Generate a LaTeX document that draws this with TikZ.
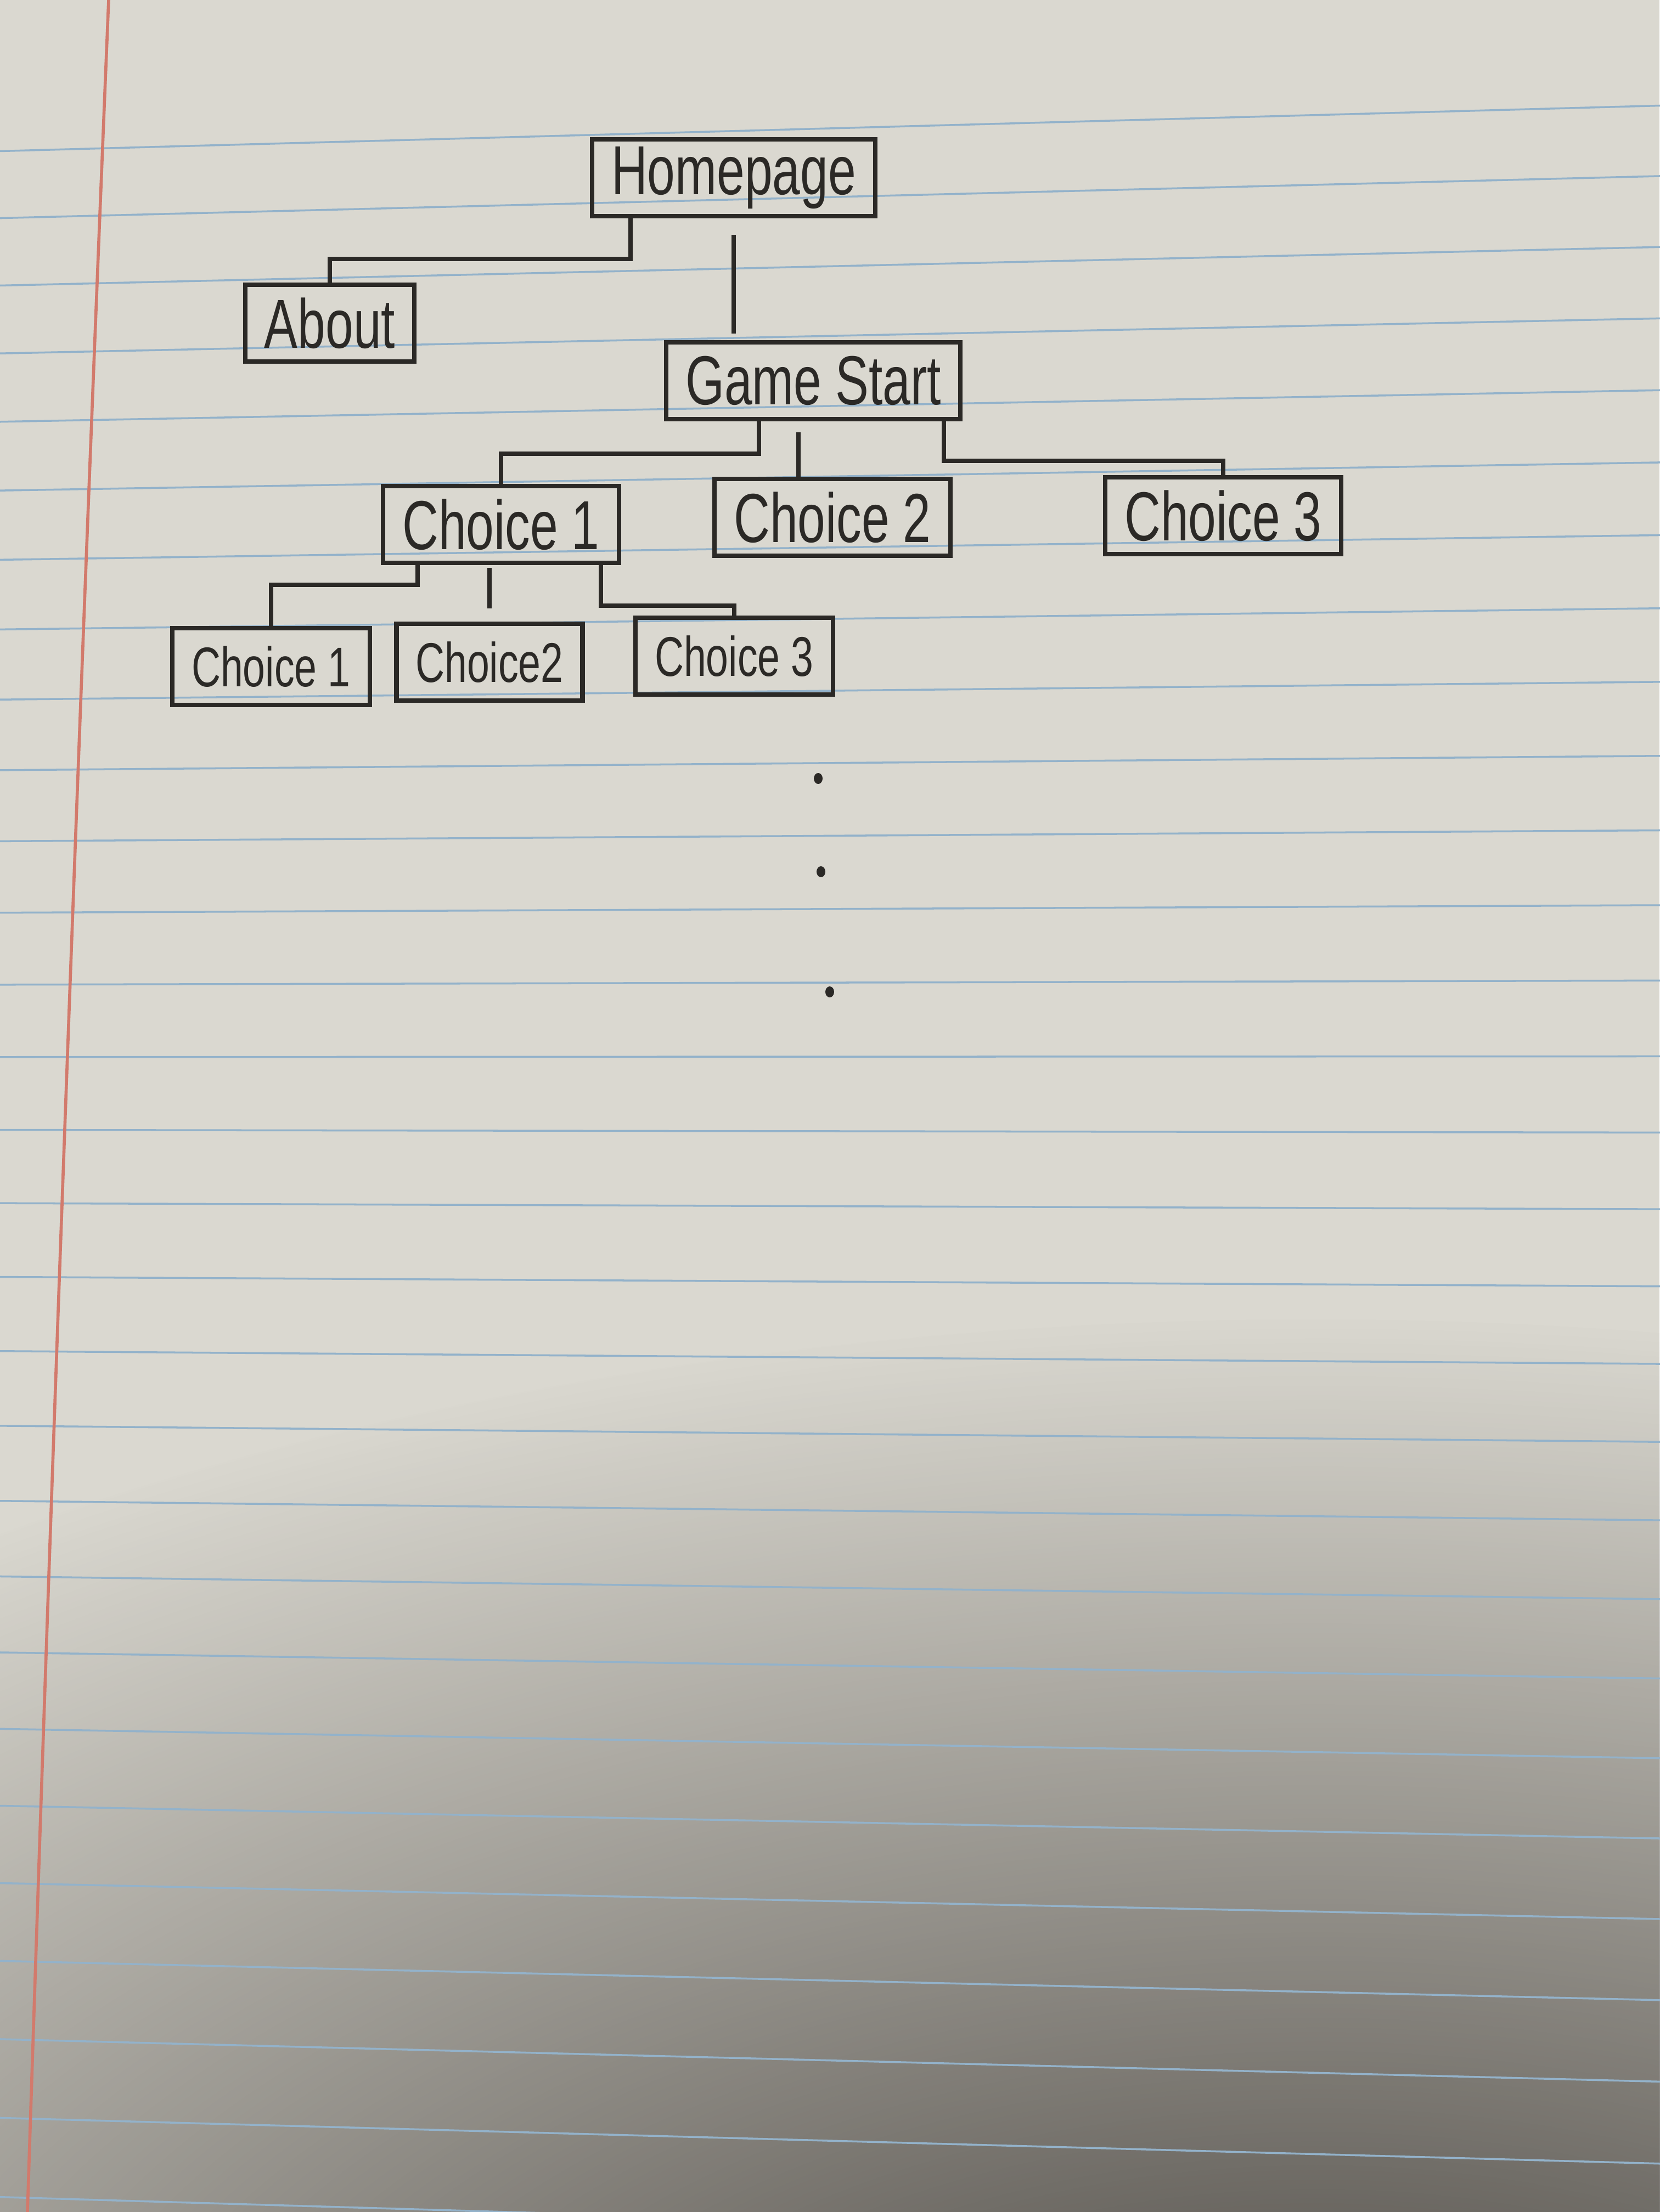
\documentclass[tikz,border=0pt]{standalone}
\usepackage{fontspec}
\setmainfont{Liberation Sans}[FakeStretch=0.72]
\usetikzlibrary{fadings}
\definecolor{paper}{HTML}{DAD8D0}
\definecolor{papershadow}{HTML}{45413C}
\definecolor{rulecol}{HTML}{93B2CA}
\definecolor{margincol}{HTML}{D27A6C}
\definecolor{ink}{HTML}{2B2926}
\tikzfading[name=shadowfade, inner color=transparent!0, outer color=transparent!100]
\begin{document}
\begin{tikzpicture}[
  box/.style={draw=ink, line width=2.4pt, text=ink, font=\fontsize{36}{40}\selectfont, inner xsep=0.35cm, minimum height=1.4cm},
  subbox/.style={box, font=\fontsize{29}{34}\selectfont},
  conn/.style={draw=ink, line width=2.2pt},
  ruling/.style={draw=rulecol, line width=1pt}
]
\useasboundingbox (0,0) rectangle (30.24,-40.32);

% the sheet of paper
\fill[paper] (0,0) rectangle (30.24,-40.32);
\fill[papershadow, path fading=shadowfade] (24,-46) ellipse (42 and 22);
\foreach \i in {0,...,28} {
  \pgfmathsetmacro{\yl}{2.70+1.221*\i+0.0041*\i*\i}
  \pgfmathsetmacro{\yr}{1.98+1.2765*\i+0.004026*\i*\i}
  \draw[ruling, shorten <=-2.2cm, shorten >=-2.2cm] (2,-\yl) -- (28.24,-\yr);
}
\draw[margincol, line width=1.6pt] (1.98,0) .. controls (1.4,-14) and (0.9,-28) .. (0.5,-40.32);

% the tree
\node[box] (home) at (13.37,-3.24) {Homepage};
\node[box] (about) at (6.01,-5.89) {About};
\node[box] (game) at (14.82,-6.94) {Game Start};
\node[box] (choice1) at (9.13,-9.56) {Choice 1};
\node[box] (choice2) at (15.17,-9.43) {Choice 2};
\node[box] (choice3) at (22.29,-9.40) {Choice 3};
\node[subbox] (sub1) at (4.94,-12.15) {Choice 1};
\node[subbox] (sub2) at (8.92,-12.07) {Choice2};
\node[subbox] (sub3) at (13.38,-11.96) {Choice 3};

\draw[conn] ([xshift=-1.88cm]home.south) -- ++(0,-0.74) -| (about.north);
\draw[conn, shorten <=3mm, shorten >=1.2mm] (home.south) -- (home.south |- game.north);
\draw[conn] ([xshift=-0.99cm]game.south) -- ++(0,-0.59) -| (choice1.north);
\draw[conn, shorten <=2mm] ([xshift=-0.27cm]game.south) -- ([xshift=-0.27cm]game.south |- choice2.north);
\draw[conn] ([xshift=2.38cm]game.south) -- ++(0,-0.72) -| (choice3.north);
\draw[conn] ([xshift=-1.52cm]choice1.south) -- ++(0,-0.36) -| (sub1.north);
\draw[conn, shorten <=0.5mm, shorten >=2.4mm] (sub2.north |- choice1.south) -- (sub2.north);
\draw[conn] ([xshift=1.82cm]choice1.south) -- ++(0,-0.74) -| (sub3.north);

% dots
\foreach \x/\y in {14.91/14.19, 14.96/15.89, 15.12/18.08}
  \fill[ink] (\x,-\y) ellipse (0.08 and 0.1);
\end{tikzpicture}
\end{document}
